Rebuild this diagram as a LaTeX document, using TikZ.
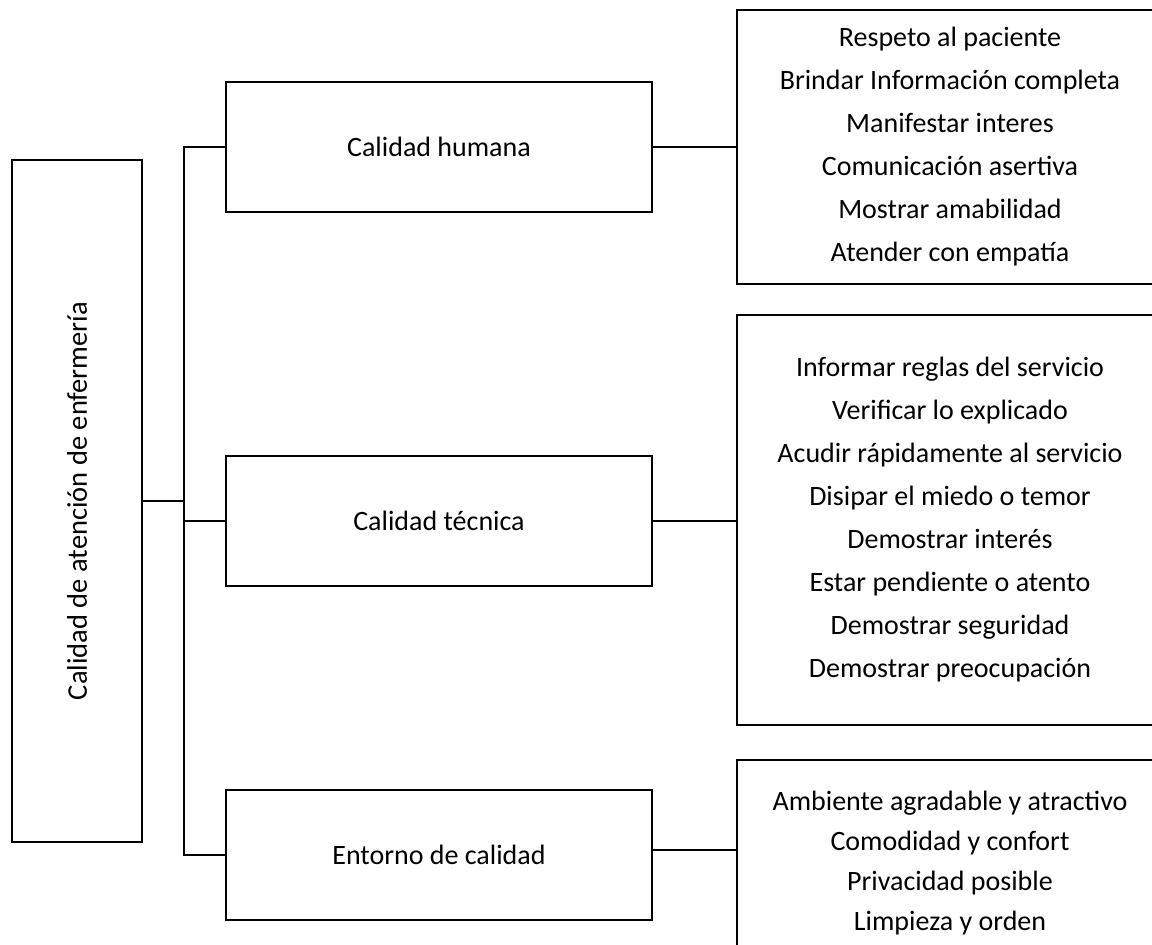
\documentclass[tikz,border=0pt]{standalone}
\usepackage{fontspec}
\setmainfont{Carlito}
\begin{document}
\begin{tikzpicture}[x=1pt,y=-1pt,
  box/.style={draw, line width=1.7pt, inner sep=0pt, align=center, font=\fontsize{28}{43}\selectfont},
  conn/.style={draw, line width=1.7pt, line cap=rect}]
\useasboundingbox (0,0) rectangle (1152,945);
\clip (0,0) rectangle (1152,945);
% root
\node[box, minimum width=130pt, minimum height=682pt, font=\fontsize{28.5}{43}\selectfont] (root) at (77,501)
  {\rotatebox{90}{Calidad de atención de enfermería}};
% level 2
\node[box, minimum width=426pt, minimum height=130pt] (h) at (439,147) {Calidad humana};
\node[box, minimum width=426pt, minimum height=130pt] (t) at (439,521) {Calidad técnica};
\node[box, minimum width=426pt, minimum height=130pt] (e) at (439,855) {Entorno de calidad};
% level 3
\node[box, minimum width=426pt, minimum height=274pt] (A) at (950,147)
  {Respeto al paciente\\Brindar Información completa\\Manifestar interes\\Comunicación asertiva\\Mostrar amabilidad\\Atender con empatía};
\node[box, minimum width=426pt, minimum height=410pt] (B) at (950,520)
  {Informar reglas del servicio\\Verificar lo explicado\\Acudir rápidamente al servicio\\Disipar el miedo o temor\\Demostrar interés\\Estar pendiente o atento\\Demostrar seguridad\\Demostrar preocupación};
\node[box, minimum width=426pt, minimum height=206pt, font=\fontsize{28}{40}\selectfont] (C) at (950,863)
  {Ambiente agradable y atractivo\\Comodidad y confort\\Privacidad posible\\Limpieza y orden};
% connectors
\coordinate (trunk) at (184,501);
\path[conn] (root.east) -- (root.east -| trunk);
\path[conn] (h.west) -| (trunk);
\path[conn] (e.west) -| (trunk);
\path[conn] (t.west) -- (t.west -| trunk);
\path[conn] (h.east) -- (h.east -| A.west);
\path[conn] (t.east) -- (t.east -| B.west);
\path[conn] ([yshift=5pt]e.east) -- ([yshift=5pt]e.east -| C.west);
\end{tikzpicture}
\end{document}
